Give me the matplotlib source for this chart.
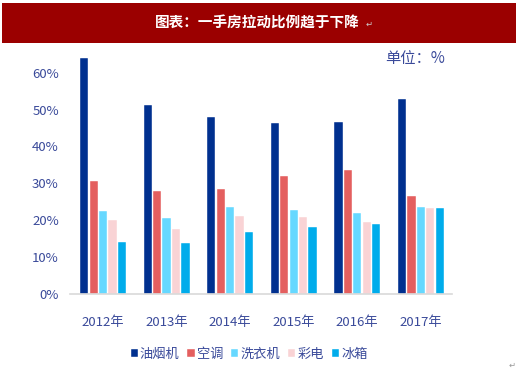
import numpy as np
import matplotlib.pyplot as plt
from matplotlib.patches import Rectangle

plt.rcParams['font.family'] = ['Noto Sans CJK SC', 'DejaVu Sans']

years = ["2012年", "2013年", "2014年", "2015年", "2016年", "2017年"]
series = ["油烟机", "空调", "洗衣机", "彩电", "冰箱"]
youyanji = [64.1, 51.3, 47.9, 46.3, 46.7, 52.9]
kongtiao = [30.7, 27.8, 28.4, 32.0, 33.6, 26.5]
xiyiji = [22.4, 20.5, 23.5, 22.8, 21.9, 23.6]
caidian = [20.0, 17.6, 21.1, 20.9, 19.5, 23.4]
bingxiang = [14.1, 13.8, 16.7, 18.1, 18.9, 23.2]
colors = ["#00308F", "#E45F5F", "#66D8FF", "#F9D3D5", "#00ACEB"]

values = [youyanji, kongtiao, xiyiji, caidian, bingxiang]

fig = plt.figure(figsize=(5.2, 3.71), dpi=100)

# title banner
fig.patches.append(Rectangle((2/520, 1-43/371), 514/520, 40/371, transform=fig.transFigure,
                             facecolor="#9B0000", edgecolor="none"))
fig.text(0.495, 1-23/371, "图表：一手房拉动比例趋于下降", color="white", fontsize=10.5,
         fontweight="bold", ha="center", va="center")
fig.text(0.703, 1-24/371, "↵", color="#cccccc", fontsize=6, ha="left", va="center")

ax = fig.add_axes([70/520, 1-294/371, 382/520, 243.5/371])
x = np.arange(len(years))
w = 0.13
for i, (name, vals, c) in enumerate(zip(series, values, colors)):
    ax.bar(x + (i - 2) * (w + 0.018), np.array(vals) / 100, width=w, color=c,
           edgecolor="white", linewidth=0.3, label=name)

ax.set_xlim(-0.52, 5.49)
ax.set_ylim(0, 0.66)
ax.set_yticks(np.arange(0, 0.61, 0.1))
ax.set_yticklabels([f"{int(round(t*100))}%" for t in np.arange(0, 0.61, 0.1)])
ax.set_xticks(x)
ax.set_xticklabels(years)
ax.tick_params(axis="both", length=0, labelsize=9.5, colors="#3A4A9A")
ax.tick_params(axis="x", pad=16)
ax.tick_params(axis="y", pad=8)
for s in ["top", "right", "left"]:
    ax.spines[s].set_visible(False)
ax.spines["bottom"].set_color("#D9D9D9")
ax.spines["bottom"].set_linewidth(1.2)

fig.text(415/520, 1-58/371, "单位：%", color="#3A4A9A", fontsize=11, ha="center", va="center")

leg = fig.legend(loc="center", bbox_to_anchor=(249/520, 1-354/371), ncol=5, frameon=False,
                 handlelength=0.55, handleheight=0.55, handletextpad=0.15, columnspacing=0.6,
                 fontsize=9.5)
for t in leg.get_texts():
    t.set_color("#3A4A9A")

fig.text(0.985, 1-365/371, "↵", color="#999999", fontsize=6, ha="center", va="center")

fig.savefig("out.png", dpi=100)
